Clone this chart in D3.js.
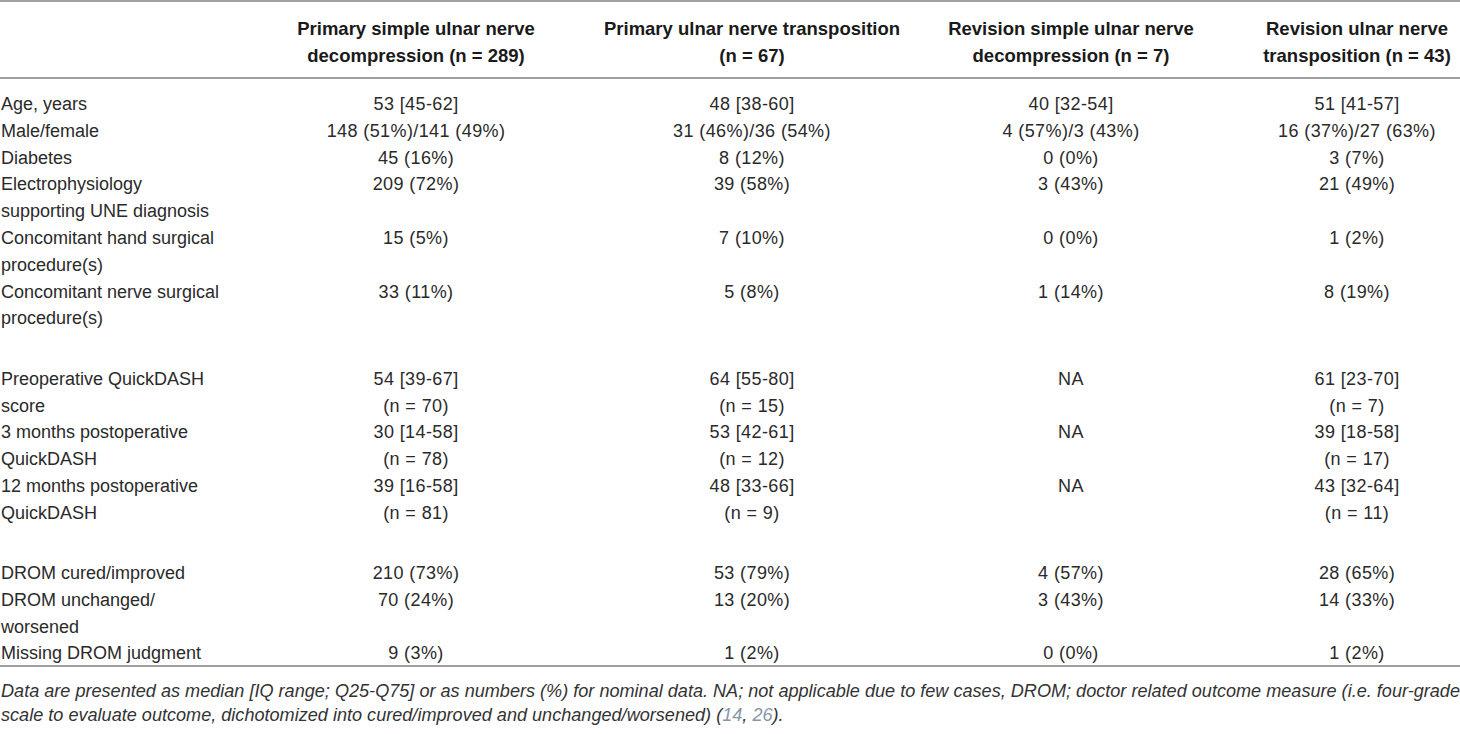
<!DOCTYPE html>
<html>
<head>
<meta charset="utf-8">
<script src="https://cdn.jsdelivr.net/npm/d3@7"></script>
<style>
    html, body { margin: 0; padding: 0; background: #fff; }
    svg { display: block; }
</style>
</head>
<body>
<svg id="table"></svg>
<script>
'use strict';

// column headers (two lines each)
const headers = [
    ['Primary simple ulnar nerve', 'decompression (n = 289)'],
    ['Primary ulnar nerve transposition', '(n = 67)'],
    ['Revision simple ulnar nerve', 'decompression (n = 7)'],
    ['Revision ulnar nerve', 'transposition (n = 43)']
];

// row labels, null = empty spacer row
const rowLabels = [
    ['Age, years'],
    ['Male/female'],
    ['Diabetes'],
    ['Electrophysiology', 'supporting UNE diagnosis'],
    ['Concomitant hand surgical', 'procedure(s)'],
    ['Concomitant nerve surgical', 'procedure(s)'],
    null,
    ['Preoperative QuickDASH', 'score'],
    ['3 months postoperative', 'QuickDASH'],
    ['12 months postoperative', 'QuickDASH'],
    null,
    ['DROM cured/improved'],
    ['DROM unchanged/', 'worsened'],
    ['Missing DROM judgment']
];

const primarySimple = [
    ['53 [45-62]'], ['148 (51%)/141 (49%)'], ['45 (16%)'], ['209 (72%)'], ['15 (5%)'], ['33 (11%)'],
    null,
    ['54 [39-67]', '(n = 70)'], ['30 [14-58]', '(n = 78)'], ['39 [16-58]', '(n = 81)'],
    null,
    ['210 (73%)'], ['70 (24%)'], ['9 (3%)']
];

const primaryTransposition = [
    ['48 [38-60]'], ['31 (46%)/36 (54%)'], ['8 (12%)'], ['39 (58%)'], ['7 (10%)'], ['5 (8%)'],
    null,
    ['64 [55-80]', '(n = 15)'], ['53 [42-61]', '(n = 12)'], ['48 [33-66]', '(n = 9)'],
    null,
    ['53 (79%)'], ['13 (20%)'], ['1 (2%)']
];

const revisionSimple = [
    ['40 [32-54]'], ['4 (57%)/3 (43%)'], ['0 (0%)'], ['3 (43%)'], ['0 (0%)'], ['1 (14%)'],
    null,
    ['NA'], ['NA'], ['NA'],
    null,
    ['4 (57%)'], ['3 (43%)'], ['0 (0%)']
];

const revisionTransposition = [
    ['51 [41-57]'], ['16 (37%)/27 (63%)'], ['3 (7%)'], ['21 (49%)'], ['1 (2%)'], ['8 (19%)'],
    null,
    ['61 [23-70]', '(n = 7)'], ['39 [18-58]', '(n = 17)'], ['43 [32-64]', '(n = 11)'],
    null,
    ['28 (65%)'], ['14 (33%)'], ['1 (2%)']
];

const footnote = [
    [{t: 'Data are presented as median [IQ range; Q25-Q75] or as numbers (%) for nominal data. NA; not applicable due to few cases, DROM; doctor related outcome measure (i.e. four-grade'}],
    [{t: 'scale to evaluate outcome, dichotomized into cured/improved and unchanged/worsened) ('},
     {t: '14', ref: true}, {t: ', '}, {t: '26', ref: true}, {t: ').'}]
];

(function () {
    const d3 = window.d3;
    const width = 1460;
    const height = 734;
    const lineStep = 26.8;
    const spacerLines = 1.25;
    const firstLineY = 110;
    const ruleColor = '#a0a0a0';
    const font = '"Liberation Sans", Arial, sans-serif';

    const columns = [primarySimple, primaryTransposition, revisionSimple, revisionTransposition];

    const svg = d3.select('#table')
        .attr('width', width)
        .attr('height', height)
        .attr('font-family', font);

    // line slot of each row start
    let slot = 0;
    const rowSlots = rowLabels.map(lbl => {
        const s = slot;
        slot += lbl ? lbl.length : spacerLines;
        return s;
    });

    const y = d3.scaleLinear()
        .domain([0, 1])
        .range([firstLineY, firstLineY + lineStep]);

    const x = d3.scaleOrdinal()
        .domain(d3.range(columns.length))
        .range([416, 752, 1071, 1357]);

    // rules
    svg.selectAll('.rule')
        .data([1, 78, 666])
        .enter().append('line')
        .attr('class', 'rule')
        .attr('x1', 0)
        .attr('x2', width)
        .attr('y1', d => d)
        .attr('y2', d => d)
        .attr('stroke', ruleColor)
        .attr('stroke-width', 2);

    // header
    const head = svg.append('g')
        .attr('font-weight', 'bold')
        .attr('font-size', '18.5px')
        .attr('fill', '#1a1a1a')
        .attr('text-anchor', 'middle');
    headers.forEach((h, i) => {
        head.append('text')
            .selectAll('tspan')
            .data(h)
            .enter().append('tspan')
            .attr('x', x(i))
            .attr('y', (d, j) => 35 + j * 27)
            .text(d => d);
    });

    // row labels
    const body = svg.append('g')
        .attr('font-size', '18px')
        .attr('fill', '#2a2a2a');
    rowLabels.forEach((lbl, r) => {
        if (!lbl) return;
        body.append('text')
            .selectAll('tspan')
            .data(lbl)
            .enter().append('tspan')
            .attr('x', 1)
            .attr('y', (d, j) => y(rowSlots[r] + j))
            .text(d => d);
    });

    // cells
    columns.forEach((col, c) => {
        col.forEach((cell, r) => {
            if (!cell) return;
            body.append('text')
                .attr('text-anchor', 'middle')
                .attr('letter-spacing', '0.4px')
                .selectAll('tspan')
                .data(cell)
                .enter().append('tspan')
                .attr('x', x(c))
                .attr('y', (d, j) => y(rowSlots[r] + j))
                .text(d => d);
        });
    });

    // footnote
    const foot = svg.append('g')
        .attr('font-size', '18.1px')
        .attr('font-style', 'italic')
        .attr('fill', '#333');
    footnote.forEach((parts, i) => {
        foot.append('text')
            .attr('x', 1)
            .attr('y', 697 + i * 23.5)
            .selectAll('tspan')
            .data(parts)
            .enter().append('tspan')
            .attr('fill', d => d.ref ? '#8796ab' : null)
            .text(d => d.t);
    });
}());
</script>
</body>
</html>
